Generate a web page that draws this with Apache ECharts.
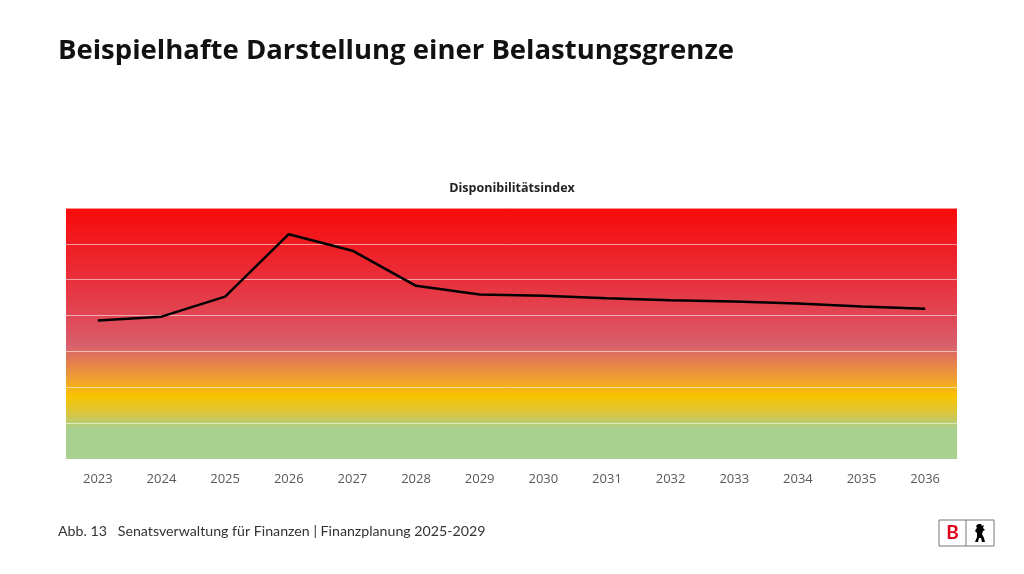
<!DOCTYPE html>
<html>
<head>
<meta charset="utf-8">
<script src="https://cdn.jsdelivr.net/npm/echarts@6/dist/echarts.min.js"></script>
<style>
html,body{margin:0;padding:0;background:#fff;}
#c{width:1024px;height:574px;}
</style>
</head>
<body>
<div id="c"></div>
<script>
const years = ['2023','2024','2025','2026','2027','2028','2029','2030','2031','2032','2033','2034','2035','2036'];
const indexValues = [3.86, 3.97, 4.53, 6.27, 5.81, 4.83, 4.59, 4.55, 4.48, 4.43, 4.39, 4.34, 4.25, 4.19];
const yMin = 0, yMax = 7, yStep = 1;

const chart = echarts.init(document.getElementById('c'));

const bg = {
  type: 'linear', x: 0, y: 0, x2: 0, y2: 1,
  colorStops: [
    {offset: 0.00, color: '#f80a0a'},
    {offset: 0.14, color: '#f01c22'},
    {offset: 0.30, color: '#e8323e'},
    {offset: 0.45, color: '#e04a58'},
    {offset: 0.55, color: '#d9606e'},
    {offset: 0.575, color: '#dd6c60'},
    {offset: 0.68, color: '#f0a032'},
    {offset: 0.75, color: '#f8c400'},
    {offset: 0.82, color: '#d8c640'},
    {offset: 0.88, color: '#a8d08e'},
    {offset: 1.00, color: '#a8d190'}
  ]
};

const bearPts = [[3,0],[6,0],[7,2],[9,1],[8,4],[10,6],[8,7],[7,10],[9,14],[10,18],[7,18],[6,14],[4,14],[3,18],[0,18],[2,13],[2,9],[0,7],[1,5],[2,4],[1,2]]
  .map(p => [975 + p[0], 524 + p[1]]);

chart.setOption({
  animation: false,
  backgroundColor: '#ffffff',
  title: [
    {
      text: 'Beispielhafte Darstellung einer Belastungsgrenze',
      left: 53, top: 32,
      textStyle: {fontFamily: 'Open Sans', fontWeight: 'bold', fontSize: 27.5, color: '#111'}
    },
    {
      text: 'Disponibilitätsindex',
      left: 'center', top: 177,
      textStyle: {fontFamily: 'Open Sans', fontWeight: 'bold', fontSize: 12.5, color: '#222'}
    },
    {
      text: 'Abb. 13   Senatsverwaltung für Finanzen | Finanzplanung 2025-2029',
      left: 53, top: 519,
      textStyle: {fontFamily: 'Lato', fontWeight: 'normal', fontSize: 14.2, color: '#333'}
    }
  ],
  grid: {
    left: 66, right: 67, top: 208, bottom: 115,
    show: true, borderWidth: 0,
    backgroundColor: bg
  },
  xAxis: {
    type: 'category',
    data: years,
    boundaryGap: true,
    axisLine: {show: false},
    axisTick: {show: false},
    axisLabel: {color: '#595959', fontFamily: 'Open Sans', fontSize: 13, margin: 14}
  },
  yAxis: {
    type: 'value',
    min: yMin, max: yMax, interval: yStep,
    axisLine: {show: false},
    axisTick: {show: false},
    axisLabel: {show: false},
    splitLine: {lineStyle: {color: 'rgba(255,255,255,0.55)', width: 1}}
  },
  series: [{
    type: 'line',
    data: indexValues,
    symbol: 'none',
    lineStyle: {color: '#000', width: 2.5}
  }],
  graphic: [
    {type: 'rect', shape: {x: 939, y: 520, width: 55, height: 26}, style: {fill: '#fff', stroke: '#777', lineWidth: 1}},
    {type: 'line', shape: {x1: 966, y1: 520, x2: 966, y2: 546}, style: {stroke: '#777', lineWidth: 1}},
    {type: 'text', style: {text: 'B', x: 952.5, y: 533, align: 'center', verticalAlign: 'middle', fill: '#e2001a', font: 'bold 19px Lato'}},
    {type: 'polygon', shape: {points: bearPts}, style: {fill: '#000'}}
  ]
});
</script>
</body>
</html>
